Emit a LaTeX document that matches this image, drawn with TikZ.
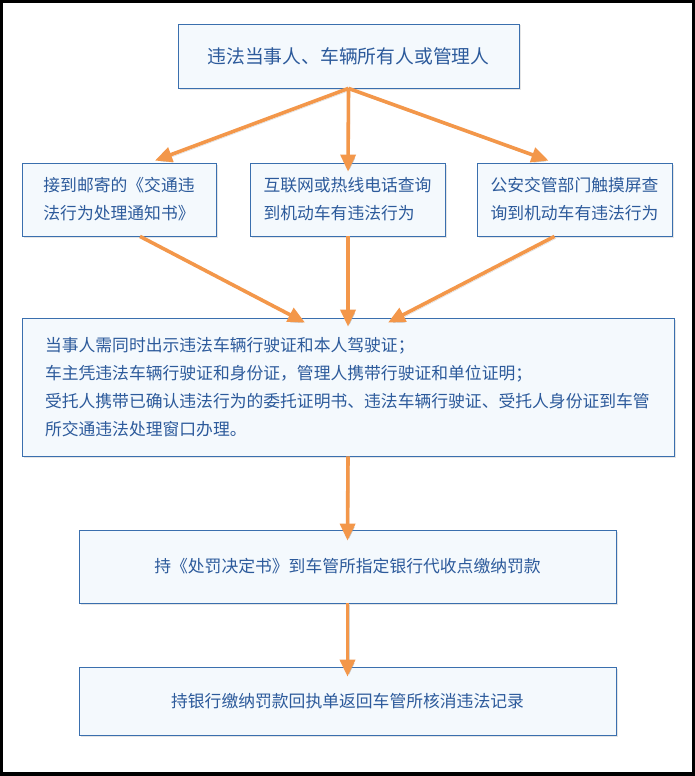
\documentclass[tikz,border=0pt]{standalone}
\usepackage{fontspec}
\setmainfont{Noto Sans CJK SC}
\usetikzlibrary{arrows.meta,shadows}
\definecolor{boxblue}{HTML}{3A6FAE}
\definecolor{boxfill}{HTML}{F4F9FD}
\definecolor{txtblue}{HTML}{2C5A9B}
\definecolor{arrowor}{HTML}{F3974A}
\begin{document}
\begin{tikzpicture}[x=1pt,y=-1pt,
    box/.style={draw=boxblue, fill=boxfill, line width=0.8pt, text=txtblue, inner sep=0pt,
        drop shadow={shadow xshift=1.5pt, shadow yshift=-1.5pt, opacity=0.2}},
    flow/.style={arrowor, line width=3.6pt, -{Triangle[length=17pt,width=15pt]},
        preaction={draw=black!40, opacity=0.4, transform canvas={shift={(1.5pt,-2pt)}}}},
    body/.style={font=\fontsize{16.8}{28}\selectfont}]
    % frame
    \fill[black] (0,0) rectangle (695,776);
    \fill[white] (3,3) rectangle (692,772);

    % boxes
    \node[box, minimum width=341pt, minimum height=64pt, font=\fontsize{18.8}{28}\selectfont] (owner) at (348.5,56) {违法当事人、车辆所有人或管理人};

    \node[box, body, align=left, minimum width=194pt, minimum height=73pt] (mail) at (119,199.5) {接到邮寄的《交通违\\法行为处理通知书》};
    \node[box, body, align=left, minimum width=195pt, minimum height=73pt] (web) at (347.5,199.5) {互联网或热线电话查询\\到机动车有违法行为};
    \node[box, body, align=left, minimum width=195pt, minimum height=73pt] (screen) at (574.5,199.5) {公安交管部门触摸屏查\\询到机动车有违法行为};

    \node[box, body, align=left, text width=606pt, inner xsep=23pt, minimum height=138pt] (docs) at (348,387) {当事人需同时出示违法车辆行驶证和本人驾驶证；\\车主凭违法车辆行驶证和身份证，管理人携带行驶证和单位证明；\\受托人携带已确认违法行为的委托证明书、违法车辆行驶证、受托人身份证到车管\\所交通违法处理窗口办理。};

    \node[box, body, minimum width=537pt, minimum height=73pt] (pay) at (347.5,566.5) {持《处罚决定书》到车管所指定银行代收点缴纳罚款};
    \node[box, body, minimum width=537pt, minimum height=68pt] (record) at (347.5,701) {持银行缴纳罚款回执单返回车管所核消违法记录};

    % arrows
    \draw[flow] (owner.south) -- ([xshift=36pt,yshift=2pt]mail.north);
    \draw[flow] (owner.south) -- ([xshift=0.5pt,yshift=-9pt]web.north);
    \draw[flow] (owner.south) -- ([xshift=-26pt,yshift=2pt]screen.north);

    \draw[flow] ([xshift=21pt]mail.south) -- ([xshift=-43pt,yshift=-5pt]docs.north);
    \draw[flow] ([xshift=0.5pt]web.south) -- ([yshift=-9pt]docs.north);
    \draw[flow] ([xshift=-20pt]screen.south) -- ([xshift=40pt,yshift=-5pt]docs.north);

    \draw[flow] (docs.south) -- ([yshift=-11pt]pay.north);
    \draw[flow] (pay.south) -- ([yshift=-10pt]record.north);
\end{tikzpicture}
\end{document}
